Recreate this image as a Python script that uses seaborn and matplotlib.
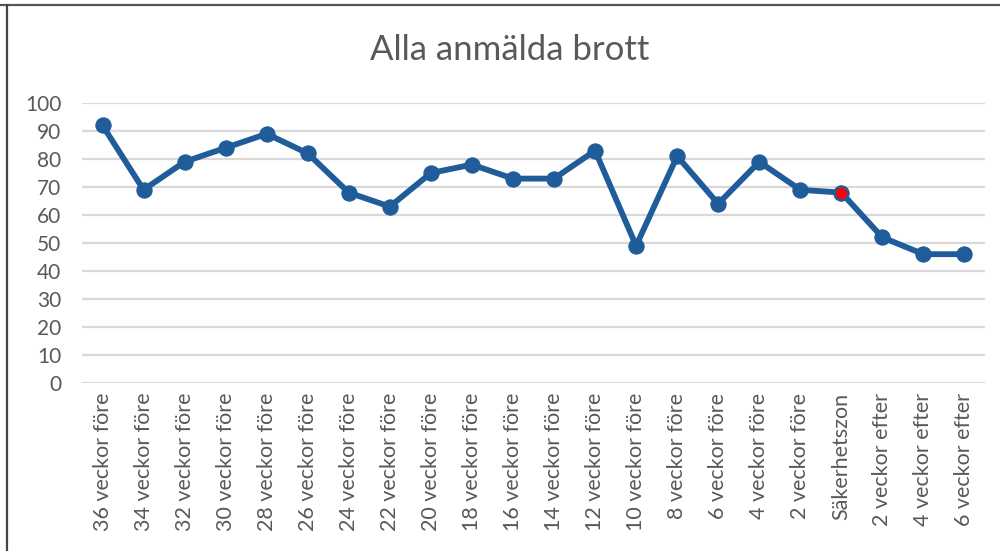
import matplotlib
matplotlib.use('Agg')
import matplotlib.pyplot as plt
import seaborn as sns
import pandas as pd
from matplotlib.lines import Line2D

# Data
categories = ['36 veckor före', '34 veckor före', '32 veckor före', '30 veckor före',
              '28 veckor före', '26 veckor före', '24 veckor före', '22 veckor före',
              '20 veckor före', '18 veckor före', '16 veckor före', '14 veckor före',
              '12 veckor före', '10 veckor före', '8 veckor före', '6 veckor före',
              '4 veckor före', '2 veckor före', 'Säkerhetszon', '2 veckor efter',
              '4 veckor efter', '6 veckor efter']
values = [92, 69, 79, 84, 89, 82, 68, 63, 75, 78, 73, 73, 83, 49, 81, 64, 79, 69, 68, 52, 46, 46]
highlight = 'Säkerhetszon'
yticks = list(range(0, 101, 10))

df = pd.DataFrame({'period': categories, 'antal': values})
df['pos'] = range(len(df))

sns.set_style('white')
plt.rcParams['font.family'] = ['Lato', 'DejaVu Sans']

blue = '#1f5c99'
text_grey = '#595959'

fig = plt.figure(figsize=(10, 5.51), dpi=100)
ax = fig.add_axes([0.082, 0.305, 0.903, 0.508])

sns.lineplot(data=df, x='pos', y='antal', ax=ax, color=blue, linewidth=4.2,
             marker='o', markersize=11, markeredgecolor=blue, sort=False, zorder=3)
hl = df[df['period'] == highlight]
sns.scatterplot(data=hl, x='pos', y='antal', ax=ax, color='#ff0000', s=95,
                edgecolor=blue, linewidth=1.5, zorder=4)

ax.set_xlim(-0.5, len(categories) - 0.5)
ax.set_ylim(0, 100)
ax.set_yticks(yticks)
ax.set_yticklabels([str(t) for t in yticks], fontsize=15, color=text_grey)
ax.set_xticks(df['pos'])
ax.set_xticklabels(categories, rotation=90, fontsize=15.5, color=text_grey)
ax.tick_params(axis='x', length=0, pad=7)
ax.tick_params(axis='y', length=0, pad=15)
ax.grid(axis='y', color='#d9d9d9', linewidth=1.6)
ax.set_axisbelow(True)
for s in ax.spines.values():
    s.set_visible(False)
ax.set_xlabel('')
ax.set_ylabel('')

fig.text(0.51, 0.91, 'Alla anmälda brott', ha='center', va='center',
         fontsize=25, color=text_grey)

# screenshot frame
fig.add_artist(Line2D([0.0, 1.0], [0.991, 0.991], transform=fig.transFigure,
                      color='#555555', linewidth=1.6))
fig.add_artist(Line2D([0.007, 0.007], [0.0, 0.991], transform=fig.transFigure,
                      color='#444444', linewidth=1.6))

fig.savefig('out.png', dpi=100)
